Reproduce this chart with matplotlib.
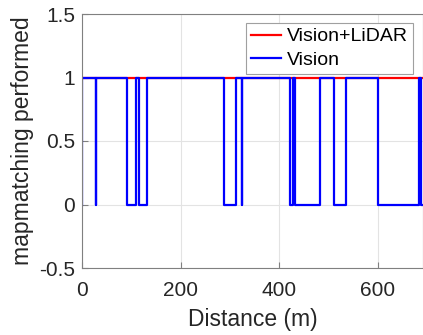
import matplotlib
matplotlib.use("Agg")
import matplotlib.pyplot as plt

# Data: change points (distance in m) and state after each change point
distance = [0, 0.4, 27.5, 28.5, 91, 110, 116, 131, 289, 313, 324, 325,
            422, 428, 432.5, 482, 512, 535, 600, 683, 688, 692]
vision = [0, 1, 0, 1, 0, 1, 0, 1, 0, 1, 0, 1,
          0, 1, 0, 1, 0, 1, 0, 1, 0, 0]
lidar_distance = [0, 692]
vision_lidar = [1, 1]

series_labels = ["Vision+LiDAR", "Vision"]
x_ticks = [0, 200, 400, 600]
y_ticks = [-0.5, 0, 0.5, 1, 1.5]

plt.rcParams['font.family'] = ['Liberation Sans', 'DejaVu Sans']

fig = plt.figure(figsize=(4.23, 3.35), dpi=100)
ax = fig.add_axes([82/423, 67/335, 1 - 82/423, 254/335])

ax.plot(lidar_distance, vision_lidar, color='#ff0000', lw=1.6,
        drawstyle='steps-post', label=series_labels[0])
ax.plot(distance, vision, color='#0000ff', lw=1.6,
        drawstyle='steps-post', label=series_labels[1])

ax.set_xlim(0, 692)
ax.set_ylim(-0.5, 1.5)
ax.set_xticks(x_ticks)
ax.set_yticks(y_ticks)
ax.set_yticklabels(['-0.5', '0', '0.5', '1', '1.5'])
ax.grid(True, color='#e3e3e3', lw=0.8)
ax.set_axisbelow(True)
ax.tick_params(direction='in', length=4, width=0.8, colors='#808080',
               labelcolor='#262626', labelsize=15, pad=5)
ax.tick_params(axis='x', pad=9)
for s in ax.spines.values():
    s.set_color('#808080')
    s.set_linewidth(0.8)

ax.set_xlabel('Distance (m)', fontsize=16.5, color='#262626', labelpad=6)
ax.set_ylabel('mapmatching performed', fontsize=16.5, color='#262626', labelpad=4)

leg = ax.legend(loc='upper right', bbox_to_anchor=(1 - 10/341, 1 - 9/254),
                fontsize=14, frameon=True, fancybox=False, framealpha=1,
                edgecolor='#a0a0a0', handlelength=1.55, handletextpad=0.3,
                borderpad=0.25, labelspacing=0.3, borderaxespad=0)
leg.get_frame().set_linewidth(0.8)

fig.savefig('out.png', dpi=100)
